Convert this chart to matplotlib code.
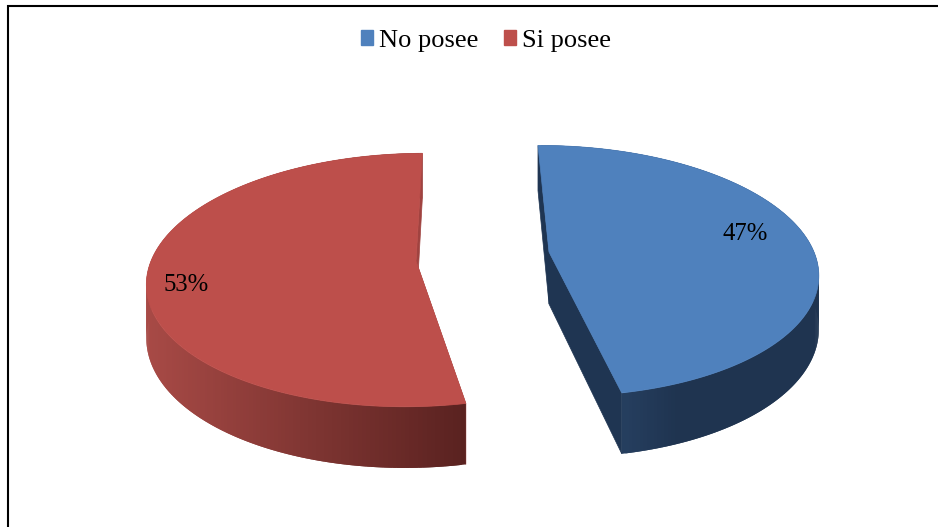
import numpy as np
import matplotlib
matplotlib.use('Agg')
import matplotlib.pyplot as plt
from matplotlib.patches import Patch, Polygon
from matplotlib.colors import to_rgb

labels = ['No posee', 'Si posee']
shares = [47, 53]
top_colors = ['#4F81BD', '#BD4F4B']
# rim colours: left end of the slice -> right end of the slice
rim_colors = [('#263F60', '#1F3450'), ('#A84A46', '#5A2220')]
rim_stops = [(0.3, 0.5), (0.0, 1.0)]
wall_colors = ['#1F3552', '#A04340']
pct_pos = [(745, 234), (186, 285)]

# apex of each exploded slice, pixels
apex = [(549, 252), (416, 261)]
rx = 265        # radius on the ground plane
persp = 0.15    # depth foreshortening
thick = 52      # pie height
vx, vy = 480, -565  # vanishing point
start_angle = -0.5


def project(cx, cy, r, t, dz=0):
    w = 1 + persp * r * np.cos(t)
    x = vx + (cx + rx * r * np.sin(t) - vx) / w
    y = vy + (cy - vy) / w + dz / w
    return np.column_stack([x, y])


fig = plt.figure(figsize=(9.39, 5.27), dpi=100)
ax = fig.add_axes([0, 0, 1, 1])
ax.set_xlim(0, 939)
ax.set_ylim(527, 0)
ax.axis('off')

# picture frame
ax.plot([8, 8, 938], [527, 6, 6], color='black', lw=1.5, solid_joinstyle='miter',
        solid_capstyle='butt', zorder=1)

start = np.radians(start_angle)
for i, share in enumerate(shares):
    end = start + share / 100 * 2 * np.pi
    t = np.linspace(start, end, 240)
    cx, cy = apex[i]
    rim_top = project(cx, cy, 1, t)
    rim_bot = project(cx, cy, 1, t, thick)
    centre_top = project(cx, cy, 0, np.array([0.0]))
    centre_bot = project(cx, cy, 0, np.array([0.0]), thick)

    # flat walls of the cut: the one facing front goes under the rim, the back one over it
    for j in (0, -1):
        wall = np.vstack([centre_top, rim_top[j], rim_bot[j], centre_bot])
        z = 3 if np.cos(t[j]) > 0 else 1.5
        ax.add_patch(Polygon(wall, closed=True, fc=wall_colors[i], ec=wall_colors[i], lw=0.5, zorder=z))

    # curved side, shaded left to right. quads overlap so no seams show
    c0, c1 = np.array(to_rgb(rim_colors[i][0])), np.array(to_rgb(rim_colors[i][1]))
    xmin, xmax = rim_top[:, 0].min(), rim_top[:, 0].max()
    for k in range(len(t) - 2):
        quad = np.vstack([rim_top[k], rim_top[k + 2], rim_bot[k + 2], rim_bot[k]])
        f = (rim_top[k, 0] - xmin) / (xmax - xmin)
        f = np.interp(f, rim_stops[i], (0, 1))
        ax.add_patch(Polygon(quad, closed=True, fc=c0 + (c1 - c0) * f, ec='none', zorder=2))

    # top face
    face = np.vstack([centre_top, rim_top])
    ax.add_patch(Polygon(face, closed=True, fc=top_colors[i], ec=top_colors[i], lw=0.5, zorder=4))

    ax.text(pct_pos[i][0], pct_pos[i][1], '%d%%' % share, ha='center', va='center',
            family='Liberation Serif', fontsize=17.8, color='black', zorder=5)
    start = end

handles = [Patch(fc=c, ec=c) for c in top_colors]
ax.legend(handles, labels, ncol=2, loc='center', bbox_to_anchor=(486 / 939, 1 - 41 / 527),
          frameon=False, prop={'family': 'Liberation Serif', 'size': 19},
          handlelength=0.45, handleheight=0.5, handletextpad=0.25, columnspacing=0.95)

fig.savefig('out.png', dpi=100)
